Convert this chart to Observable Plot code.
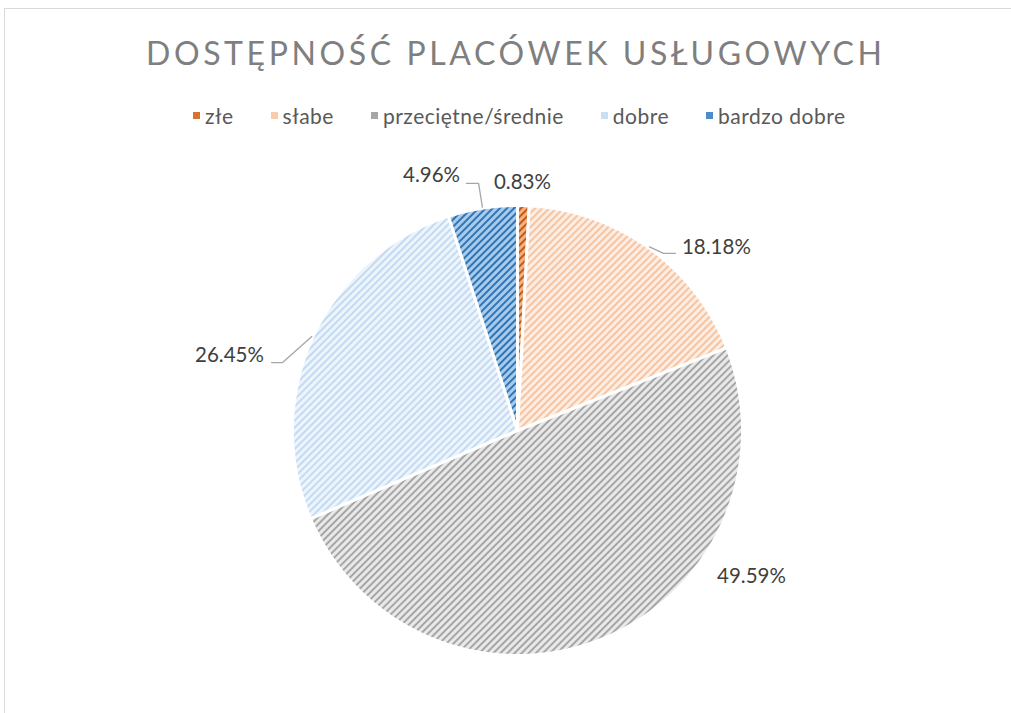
<!DOCTYPE html>
<html>
<head>
<meta charset="utf-8">
<script src="https://cdn.jsdelivr.net/npm/d3@7"></script>
<script src="https://cdn.jsdelivr.net/npm/@observablehq/plot@0.6"></script>
<style>
html,body{margin:0;padding:0;background:#fff;}
body{width:1011px;height:713px;overflow:hidden;position:relative;font-family:Lato,"Open Sans",sans-serif;}
#frame{position:absolute;left:4px;top:8px;width:1200px;height:900px;border:1px solid #d9d9d9;box-sizing:border-box;}
#head{position:relative;height:140px;}
#title{position:absolute;left:146px;top:37px;font-size:32px;line-height:32px;color:#7f7f7f;white-space:nowrap;}
#legend{position:absolute;left:193px;top:105px;display:flex;gap:37px;font-size:21px;letter-spacing:0.5px;line-height:21px;color:#595959;white-space:nowrap;}
.item{display:flex;align-items:center;}
.sw{width:7px;height:7px;margin-right:5px;display:inline-block;}
#chart{position:relative;}
</style>
</head>
<body>
<div id="frame"></div>
<div id="head">
  <div id="title"></div>
  <div id="legend"></div>
</div>
<div id="chart"></div>
<script>
// ---- data ----
const titleText = "DOSTĘPNOŚĆ PLACÓWEK USŁUGOWYCH";
const categories = ["złe", "słabe", "przeciętne/średnie", "dobre", "bardzo dobre"];
const shares = [0.83, 18.18, 49.59, 26.45, 4.96];

// ---- styles ----
const patternBg = ["#F4B183", "#FDEDE2", "#E9E9E9", "#EEF4FC", "#A9CBEB"];
const patternFg = ["#C55A11", "#F6C4A1", "#A6A6A6", "#C3DBF2", "#2E75B6"];
const swatchColors = ["#D9722E", "#F8CBAD", "#A6A6A6", "#C9DEF3", "#4D8CCB"];

// ---- layout (pie-radius units, centre = 0,0, y up) ----
const labelPos = [[0.022, 1.102], [0.884, 0.813], [1.04, -0.649], [-1.28, 0.333], [-0.382, 1.133]];
const leaderPts = [null, [[0.649, 0.787], [0.702, 0.787]], null, [[-1.044, 0.302], [-1.093, 0.302]], [[-0.173, 1.098], [-0.227, 1.098]]];

// title with letter-spacing fitted to the reference width
const titleEl = document.getElementById("title");
titleEl.textContent = titleText;
const ctx = document.createElement("canvas").getContext("2d");
ctx.font = "32px Lato";
const tw = ctx.measureText(titleText).width;
const ls = (736 - tw) / (titleText.length - 1);
titleEl.style.letterSpacing = ls + "px";

// legend
const legendEl = document.getElementById("legend");
categories.forEach((c, i) => {
  const it = document.createElement("div");
  it.className = "item";
  const sw = document.createElement("span");
  sw.className = "sw";
  sw.style.background = swatchColors[i];
  it.appendChild(sw);
  it.appendChild(document.createTextNode(c));
  legendEl.appendChild(it);
});

// pie geometry
const W = 1011, H = 573, R = 225, CX = 517, CY = 290;
const data = categories.map((c, i) => ({cat: c, value: shares[i], i}));
const arcs = d3.pie().sort(null).value(d => d.value)(data);

const sliceMarks = arcs.map((a, i) => {
  const pts = [{x: 0, y: 0}];
  const n = Math.max(2, Math.ceil((a.endAngle - a.startAngle) / 0.004));
  for (let k = 0; k <= n; k++) {
    const t = a.startAngle + (a.endAngle - a.startAngle) * k / n;
    pts.push({x: Math.sin(t), y: Math.cos(t)});
  }
  return Plot.line(pts, {x: "x", y: "y", fill: `url(#pat${i})`, stroke: "white", strokeWidth: 3, strokeLinejoin: "round", curve: "linear-closed"});
});

const labelData = arcs.map((a, i) => ({
  x: labelPos[i][0], y: labelPos[i][1],
  text: a.data.value.toFixed(2) + "%"
}));

const leaderData = [];
arcs.forEach((a, i) => {
  if (!leaderPts[i]) return;
  const m = (a.startAngle + a.endAngle) / 2;
  leaderData.push({cat: a.data.cat, x: Math.sin(m) * 1.005, y: Math.cos(m) * 1.005});
  leaderPts[i].forEach(p => leaderData.push({cat: a.data.cat, x: p[0], y: p[1]}));
});

const svg = Plot.plot({
  width: W, height: H,
  margin: 0,
  style: {background: "transparent", fontFamily: "Lato, 'Open Sans', sans-serif"},
  x: {domain: [-CX / R, (W - CX) / R], range: [0, W], axis: null},
  y: {domain: [-(H - CY) / R, CY / R], range: [H, 0], axis: null},
  marks: [
    ...sliceMarks,
    Plot.line(leaderData, {x: "x", y: "y", z: "cat", stroke: "#A6A6A6", strokeWidth: 1.3}),
    Plot.text(labelData, {x: "x", y: "y", text: "text", fontSize: 20.5, fill: "#404040"})
  ]
});

const defs = d3.select(svg).insert("defs", ":first-child");
categories.forEach((c, i) => {
  const p = defs.append("pattern").attr("id", `pat${i}`)
    .attr("patternUnits", "userSpaceOnUse").attr("width", 5).attr("height", 5)
    .attr("patternTransform", "rotate(45)");
  p.append("rect").attr("width", 5).attr("height", 5).attr("fill", patternBg[i]);
  p.append("rect").attr("width", 2).attr("height", 5).attr("fill", patternFg[i]);
});

document.getElementById("chart").appendChild(svg);
</script>
</body>
</html>
